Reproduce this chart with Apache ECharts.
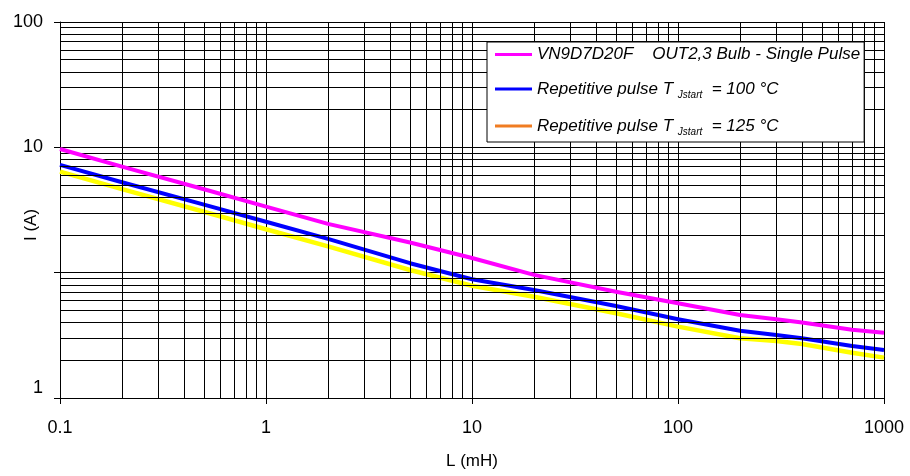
<!DOCTYPE html>
<html>
<head>
<meta charset="utf-8">
<script src="https://cdn.jsdelivr.net/npm/echarts@6/dist/echarts.min.js"></script>
<style>
  html, body { margin: 0; padding: 0; background: #fff; }
  #chart { width: 910px; height: 476px; }
</style>
</head>
<body>
<div id="chart"></div>
<script>
// Inductance sweep (mH)
const inductance = [0.1, 0.2, 0.5, 1, 2, 5, 10, 20, 50, 100, 200, 300, 400, 700, 1000];

// Maximum turn-off current (A)
const singlePulse = [9.7, 7.02, 4.63, 3.36, 2.45, 1.74, 1.31, 0.96, 0.705, 0.57, 0.46, 0.425, 0.40, 0.35, 0.332];
const repetitive100 = [7.24, 5.27, 3.49, 2.55, 1.86, 1.19, 0.886, 0.728, 0.542, 0.425, 0.344, 0.318, 0.30, 0.26, 0.242];
const repetitive125 = [6.4, 4.64, 3.06, 2.22, 1.62, 1.05, 0.787, 0.643, 0.474, 0.371, 0.30, 0.285, 0.27, 0.23, 0.21];

// Axis tick text
const xTickLabels = { 0.1: '0.1', 1: '1', 10: '10', 100: '100', 1000: '1000' };
const yTickLabels = { 100: '100', 10: '10', 1: '', 0.1: '{low|1}' };

const seriesNames = [
  'VN9D7D20F    OUT2,3 Bulb - Single Pulse',
  'Repetitive pulse T_100',
  'Repetitive pulse T_125'
];

const FONT = '"Liberation Sans", Arial, sans-serif';

// minor decade grid lines (2..9 x 10^k)
function minorValues(lo, hi) {
  const out = [];
  for (let e = lo; e < hi; e++) {
    for (let m = 2; m <= 9; m++) out.push(+(m * Math.pow(10, e)).toPrecision(3));
  }
  return out;
}
const gridMarks = []
  .concat(minorValues(-1, 3).map(v => ({ xAxis: v })))
  .concat(minorValues(-1, 2).map(v => ({ yAxis: v })));

const pairs = arr => inductance.map((l, i) => [l, arr[i]]);

const chart = echarts.init(document.getElementById('chart'), null, { renderer: 'canvas' });

chart.setOption({
  animation: false,
  backgroundColor: '#fff',
  textStyle: { fontFamily: FONT },
  grid: { left: 60, right: 26, top: 22, bottom: 78, containLabel: false, outerBoundsMode: 'none' },
  legend: {
    left: 487,
    top: 42,
    z: 20,
    orient: 'vertical',
    backgroundColor: '#fff',
    borderColor: '#000',
    borderWidth: 1,
    borderRadius: 0,
    padding: [4, 4, 5, 8],
    itemGap: 15,
    icon: 'rect',
    itemWidth: 37,
    itemHeight: 3,
    selectedMode: false,
    data: [
      { name: seriesNames[0], itemStyle: { color: '#ff00ff' } },
      { name: seriesNames[1], itemStyle: { color: '#0000ff' } },
      { name: seriesNames[2], itemStyle: { color: '#f07c22' } }
    ],
    formatter: function (name) {
      if (name === seriesNames[0]) return '{n|' + name + '}';
      const t = name === seriesNames[1] ? '100' : '125';
      return '{n|Repetitive pulse T }{s|Jstart}{n|  = ' + t + ' °C}';
    },
    textStyle: {
      color: '#000',
      fontFamily: FONT,
      fontSize: 17,
      fontStyle: 'italic',
      rich: {
        n: { fontSize: 17, fontStyle: 'italic', fontFamily: FONT, color: '#000', lineHeight: 24 },
        s: { fontSize: 10, fontStyle: 'italic', fontFamily: FONT, color: '#000', lineHeight: 12, padding: [12, 0, 0, 0] }
      }
    }
  },
  xAxis: {
    type: 'log',
    logBase: 10,
    min: 0.1,
    max: 1000,
    name: 'L (mH)',
    nameLocation: 'middle',
    nameGap: 55,
    nameMoveOverlap: false,
    nameTextStyle: { color: '#000', fontSize: 17, fontFamily: FONT },
    axisLine: { show: true, lineStyle: { color: '#000', width: 1 } },
    axisTick: { show: true, inside: false, length: 6, lineStyle: { color: '#000' } },
    axisLabel: {
      color: '#000', fontSize: 18, fontFamily: FONT, margin: 21,
      formatter: v => xTickLabels[+v.toPrecision(3)] ?? ''
    },
    splitLine: { show: true, lineStyle: { color: '#000', width: 1 } },
    minorTick: { show: false },
    minorSplitLine: { show: false }
  },
  yAxis: {
    type: 'log',
    logBase: 10,
    min: 0.1,
    max: 100,
    name: 'I (A)',
    nameLocation: 'middle',
    nameGap: 20,
    nameMoveOverlap: false,
    nameTextStyle: { color: '#000', fontSize: 17, fontFamily: FONT, padding: [0, 30, 0, 0] },
    axisLine: { show: true, lineStyle: { color: '#000', width: 1 } },
    axisTick: { show: true, inside: false, length: 6, lineStyle: { color: '#000' } },
    axisLabel: {
      color: '#000', fontSize: 18, fontFamily: FONT, margin: 17,
      formatter: v => yTickLabels[+v.toPrecision(3)] ?? '',
      rich: { low: { fontSize: 18, fontFamily: FONT, color: '#000', padding: [0, 0, 20, 0] } }
    },
    splitLine: { show: true, lineStyle: { color: '#000', width: 1 } },
    minorTick: { show: false },
    minorSplitLine: { show: false }
  },
  series: [
    {
      name: 'grid-minor',
      type: 'line',
      data: [],
      z: 1,
      silent: true,
      markLine: {
        silent: true,
        symbol: ['none', 'none'],
        label: { show: false },
        emphasis: { disabled: true },
        lineStyle: { color: '#000', width: 1, type: 'solid' },
        data: gridMarks
      }
    },
    {
      name: seriesNames[0],
      type: 'line',
      data: pairs(singlePulse),
      symbol: 'none',
      z: 5,
      lineStyle: { color: '#ff00ff', width: 4, join: 'round' },
      itemStyle: { color: '#ff00ff' }
    },
    {
      name: seriesNames[1],
      type: 'line',
      data: pairs(repetitive100),
      symbol: 'none',
      z: 4,
      lineStyle: { color: '#0000ff', width: 4, join: 'round' },
      itemStyle: { color: '#0000ff' }
    },
    {
      name: seriesNames[2],
      type: 'line',
      data: pairs(repetitive125),
      symbol: 'none',
      z: 3,
      lineStyle: { color: '#ffff00', width: 4.5, join: 'round' },
      itemStyle: { color: '#ffff00' }
    }
  ]
});
</script>
</body>
</html>
